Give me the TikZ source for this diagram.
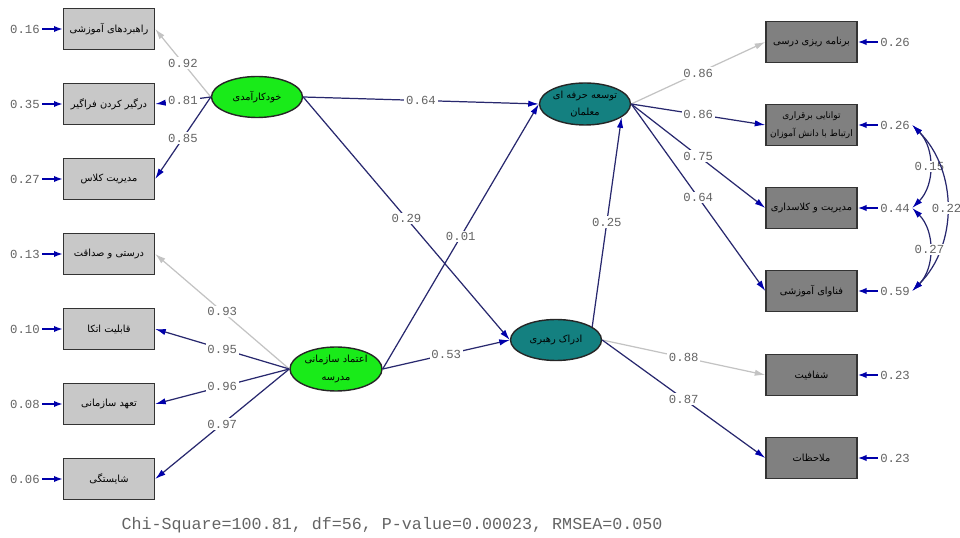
\documentclass[tikz,border=0pt]{standalone}
\usepackage{fontspec}
\newfontfamily\farsi[Script=Arabic]{DejaVu Sans}
\newfontfamily\lisrel{Liberation Mono}
\TeXXeTstate=1
\usetikzlibrary{shapes,arrows.meta}
\definecolor{pathnavy}{RGB}{40,40,110}
\definecolor{tipblue}{RGB}{0,0,170}
\definecolor{fixgray}{RGB}{195,195,195}
\definecolor{latgreen}{RGB}{25,235,25}
\definecolor{latteal}{RGB}{20,128,128}
\definecolor{boxlight}{RGB}{200,200,200}
\definecolor{boxdark}{RGB}{128,128,128}
\definecolor{numgray}{RGB}{100,100,100}
\newcommand{\fa}[1]{\beginR #1\endR}
\tikzset{%
	indic/.style    	= {draw=black!80, thick, rectangle, inner sep=1pt, minimum height = 0.82cm, minimum width = 1.82cm, align=center, font=\farsi\fontsize{5.6}{10}\selectfont},
	leftind/.style  	= {indic, fill=boxlight}, % x-indicators
	rightind/.style 	= {indic, fill=boxdark}, % y-indicators
	latent/.style   	= {draw=black!85, thick, ellipse, inner sep=0pt, minimum height = 0.82cm, minimum width = 1.82cm, align=center, font=\farsi\fontsize{5.6}{10}\selectfont},
	exo/.style      	= {latent, fill=latgreen},
	endo/.style     	= {latent, fill=latteal},
	load/.style     	= {draw=pathnavy, line width=0.7pt, -{Latex[length=6pt, width=3.6pt, color=tipblue]}},
	fixed/.style    	= {draw=fixgray, line width=0.7pt, -{Latex[length=6pt, width=3.6pt, color=fixgray]}},
	cov/.style      	= {draw=pathnavy, line width=0.7pt, {Latex[length=6pt, width=3.6pt, color=tipblue]}-{Latex[length=6pt, width=3.6pt, color=tipblue]}},
	errarr/.style   	= {draw=tipblue, line width=1.1pt, -{Latex[length=5pt, width=3.6pt]}},
	coef/.style     	= {fill=white, inner sep=1pt, text=numgray, font=\lisrel\fontsize{7}{8}\selectfont},
	err/.style      	= {inner sep=1pt, text=numgray, font=\lisrel\fontsize{7}{8}\selectfont}
}
\begin{document}
\begin{tikzpicture}[thick]
	\useasboundingbox (0,0) rectangle (19.2,10.74);
	% x-indicators and their errors
	\draw
	node at (2.18, 10.16) [leftind] (strat) {\fa{راهبردهای آموزشی}}
	node at (2.18, 8.66) [leftind] (engage) {\fa{درگیر کردن فراگیر}}
	node at (2.18, 7.16) [leftind] (classm) {\fa{مدیریت کلاس}}
	node at (2.18, 5.66) [leftind] (honest) {\fa{درستی و صداقت}}
	node at (2.18, 4.16) [leftind] (reliab) {\fa{قابلیت اتکا}}
	node at (2.18, 2.66) [leftind] (commit) {\fa{تعهد سازمانی}}
	node at (2.18, 1.16) [leftind] (compet) {\fa{شایستگی}}
	node at (0.5, 10.16) [err] (e-strat) {0.16}
	node at (0.5, 8.66) [err] (e-engage) {0.35}
	node at (0.5, 7.16) [err] (e-classm) {0.27}
	node at (0.5, 5.66) [err] (e-honest) {0.13}
	node at (0.5, 4.16) [err] (e-reliab) {0.10}
	node at (0.5, 2.66) [err] (e-commit) {0.08}
	node at (0.5, 1.16) [err] (e-compet) {0.06}
	;
	% latent variables
	\draw
	node at (5.14, 8.80) [exo] (self) {\fa{خودکارآمدی}}
	node at (6.72, 3.36) [exo, minimum height=0.88cm, minimum width=1.84cm] (trust) {\fa{اعتماد سازمانی}\\ \fa{مدرسه}}
	node at (11.70, 8.66) [endo, minimum height=0.84cm] (profdev) {\fa{توسعه حرفه ای}\\ \fa{معلمان}}
	node at (11.12, 3.94) [endo] (leader) {\fa{ادراک رهبری}}
	;
	% y-indicators and their errors
	\draw
	node at (16.23, 9.90) [rightind] (plan) {\fa{برنامه ریزی درسی}}
	node at (16.23, 8.24) [rightind, font=\farsi\fontsize{5.1}{10}\selectfont] (commun) {\fa{توانایی برقراری}\\ \fa{ارتباط با دانش آموزان}}
	node at (16.23, 6.58) [rightind] (manage) {\fa{مدیریت و کلاسداری}}
	node at (16.23, 4.92) [rightind] (tech) {\fa{فناوای آموزشی}}
	node at (16.23, 3.24) [rightind] (transp) {\fa{شفافیت}}
	node at (16.23, 1.58) [rightind] (consid) {\fa{ملاحظات}}
	node at (17.90, 9.90) [err] (e-plan) {0.26}
	node at (17.90, 8.24) [err] (e-commun) {0.26}
	node at (17.90, 6.58) [err] (e-manage) {0.44}
	node at (17.90, 4.92) [err] (e-tech) {0.59}
	node at (17.90, 3.24) [err] (e-transp) {0.23}
	node at (17.90, 1.58) [err] (e-consid) {0.23}
	;
	
	% Loadings of the exogenous variables
	\draw[fixed](self.west) -- node [coef] {0.92} (strat.east);
	\draw[load](self.west) -- node [coef] {0.81} (engage.east);
	\draw[load](self.west) -- node [coef] {0.85} (classm.east);
	\draw[fixed](trust.west) -- node [coef] {0.93} (honest.east);
	\draw[load](trust.west) -- node [coef] {0.95} (reliab.east);
	\draw[load](trust.west) -- node [coef] {0.96} (commit.east);
	\draw[load](trust.west) -- node [coef] {0.97} (compet.east);
	
	% Structural paths
	\draw[load](self.east) -- node [coef] {0.64} (profdev.west);
	\draw[load](self.east) -- node [coef] {0.29} (leader.west);
	\draw[load](trust.east) -- node [coef] {0.01} (profdev.west);
	\draw[load](trust.east) -- node [coef] {0.53} (leader.west);
	\draw[load](leader.20) -- node [coef] {0.25} (profdev.-20);
	
	% Loadings of the endogenous variables
	\draw[fixed](profdev.east) -- node [coef] {0.86} (plan.west);
	\draw[load](profdev.east) -- node [coef] {0.86} (commun.west);
	\draw[load](profdev.east) -- node [coef] {0.75} (manage.west);
	\draw[load](profdev.east) -- node [coef] {0.64} (tech.west);
	\draw[fixed](leader.east) -- node [coef] {0.88} (transp.west);
	\draw[load](leader.east) -- node [coef] {0.87} (consid.west);
	
	% Error terms
	\foreach \v in {strat, engage, classm, honest, reliab, commit, compet}
		\draw[errarr] (e-\v) -- (\v);
	\foreach \v in {plan, commun, manage, tech, transp, consid}
		\draw[errarr] (e-\v) -- (\v);
	
	% Error covariances
	\draw[cov](e-commun.east) to[out=-45, in=45] node [coef] {0.15} (e-manage.east);
	\draw[cov](e-commun.east) to[out=-45, in=45] node [coef] {0.22} (e-tech.east);
	\draw[cov](e-manage.east) to[out=-45, in=45] node [coef] {0.27} (e-tech.east);
	
	\node at (7.84, 0.24) [text=numgray, font=\lisrel\fontsize{9.5}{11}\selectfont] (fit) {Chi-Square=100.81, df=56, P-value=0.00023, RMSEA=0.050};
\end{tikzpicture}
\end{document}
